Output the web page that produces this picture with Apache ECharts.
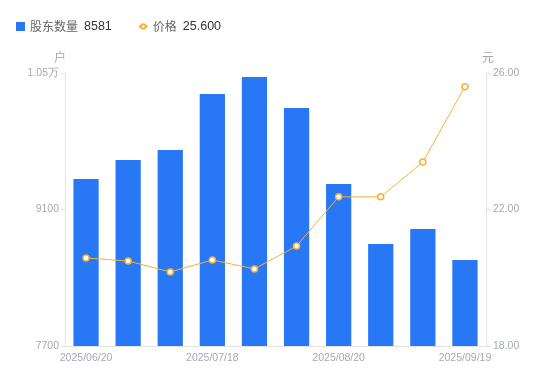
<!DOCTYPE html>
<html><head><meta charset="utf-8">
<script src="https://cdn.jsdelivr.net/npm/echarts@6/dist/echarts.min.js"></script>
<style>html,body{margin:0;padding:0;background:#fff}#c{width:550px;height:381px}</style>
</head><body><div id="c"></div>
<script>
var categories = ['2025/06/20','2025/06/30','2025/07/10','2025/07/18','2025/07/31','2025/08/08','2025/08/20','2025/08/29','2025/09/10','2025/09/19'];
var holders = [9413, 9608, 9710, 10285, 10459, 10141, 9361, 8746, 8900, 8581];
var prices = [20.58, 20.49, 20.17, 20.52, 20.26, 20.93, 22.37, 22.37, 23.39, 25.60];
var leftTicks = [7700, 9100, 10500];
var rightTicks = [18, 22, 26];

var chart = echarts.init(document.getElementById('c'));
var lastH = holders[holders.length-1], lastP = prices[prices.length-1];
var numFont = '"Liberation Sans", Arial, sans-serif';
chart.setOption({
  animation: false,
  textStyle: {fontFamily: '"Noto Sans CJK SC", "Noto Sans", sans-serif'},
  legend: {
    left: 11, top: 15, itemWidth: 9, itemHeight: 9, itemGap: 26,
    textStyle: {fontSize: 12, color: '#666', rich: {n:{color:'#666',fontSize:12}, v:{color:'#333',fontSize:12.5, fontFamily: numFont, padding:[0,0,0,6]}}},
    formatter: function(name){ return name === '股东数量' ? '{n|股东数量}{v|' + lastH + '}' : '{n|价格}{v|' + lastP.toFixed(3) + '}'; },
    data: [{name:'股东数量', icon:'rect'}, {name:'价格', icon:'path://M0,5 L3,5 M7,5 L10,5 M5,2.5 A2.5,2.5 0 1,0 5,7.5 A2.5,2.5 0 1,0 5,2.5 Z'}]
  },
  grid: {left: 65, right: 64, top: 73, bottom: 35},
  xAxis: {
    type: 'category', data: categories,
    axisLine: {lineStyle: {color: '#e3e3e3'}},
    axisTick: {show: false},
    axisLabel: {interval: 2, color: '#a5a8b8', fontSize: 10.5, margin: 7, fontFamily: numFont}
  },
  yAxis: [{
    type: 'value', min: leftTicks[0], max: leftTicks[2], interval: leftTicks[1]-leftTicks[0],
    name: '户', nameGap: 10, nameTextStyle: {color: '#a5a8b8', fontSize: 12, padding:[0,10,0,0]},
    axisLine: {show: true, lineStyle: {color: '#e3e3e3'}},
    axisTick: {show: true, length: 4, lineStyle: {color: '#e3e3e3'}},
    splitLine: {show: false},
    axisLabel: {color: '#a5a8b8', fontSize: 10.5, margin: 6, fontFamily: numFont,
      formatter: function(v){ return v >= 10000 ? (v/10000) + '万' : v; }}
  }, {
    type: 'value', min: rightTicks[0], max: rightTicks[2], interval: rightTicks[1]-rightTicks[0],
    name: '元', nameGap: 10, nameTextStyle: {color: '#a5a8b8', fontSize: 12, padding:[0,0,0,4]},
    axisLine: {show: true, lineStyle: {color: '#e3e3e3'}},
    axisTick: {show: true, length: 4, lineStyle: {color: '#e3e3e3'}},
    splitLine: {show: false},
    axisLabel: {color: '#a5a8b8', fontSize: 10.5, margin: 7, fontFamily: numFont,
      formatter: function(v){ return v.toFixed(2); }}
  }],
  series: [{
    name: '股东数量', type: 'bar', data: holders, barWidth: '60%', itemStyle: {color: '#2878f5'}
  }, {
    name: '价格', type: 'line', yAxisIndex: 1, data: prices,
    symbol: 'circle', symbolSize: 6, showAllSymbol: true,
    lineStyle: {color: '#f8b133', width: 1},
    itemStyle: {color: '#fff', borderColor: '#f8b133', borderWidth: 1.5}
  }]
});
</script></body></html>
